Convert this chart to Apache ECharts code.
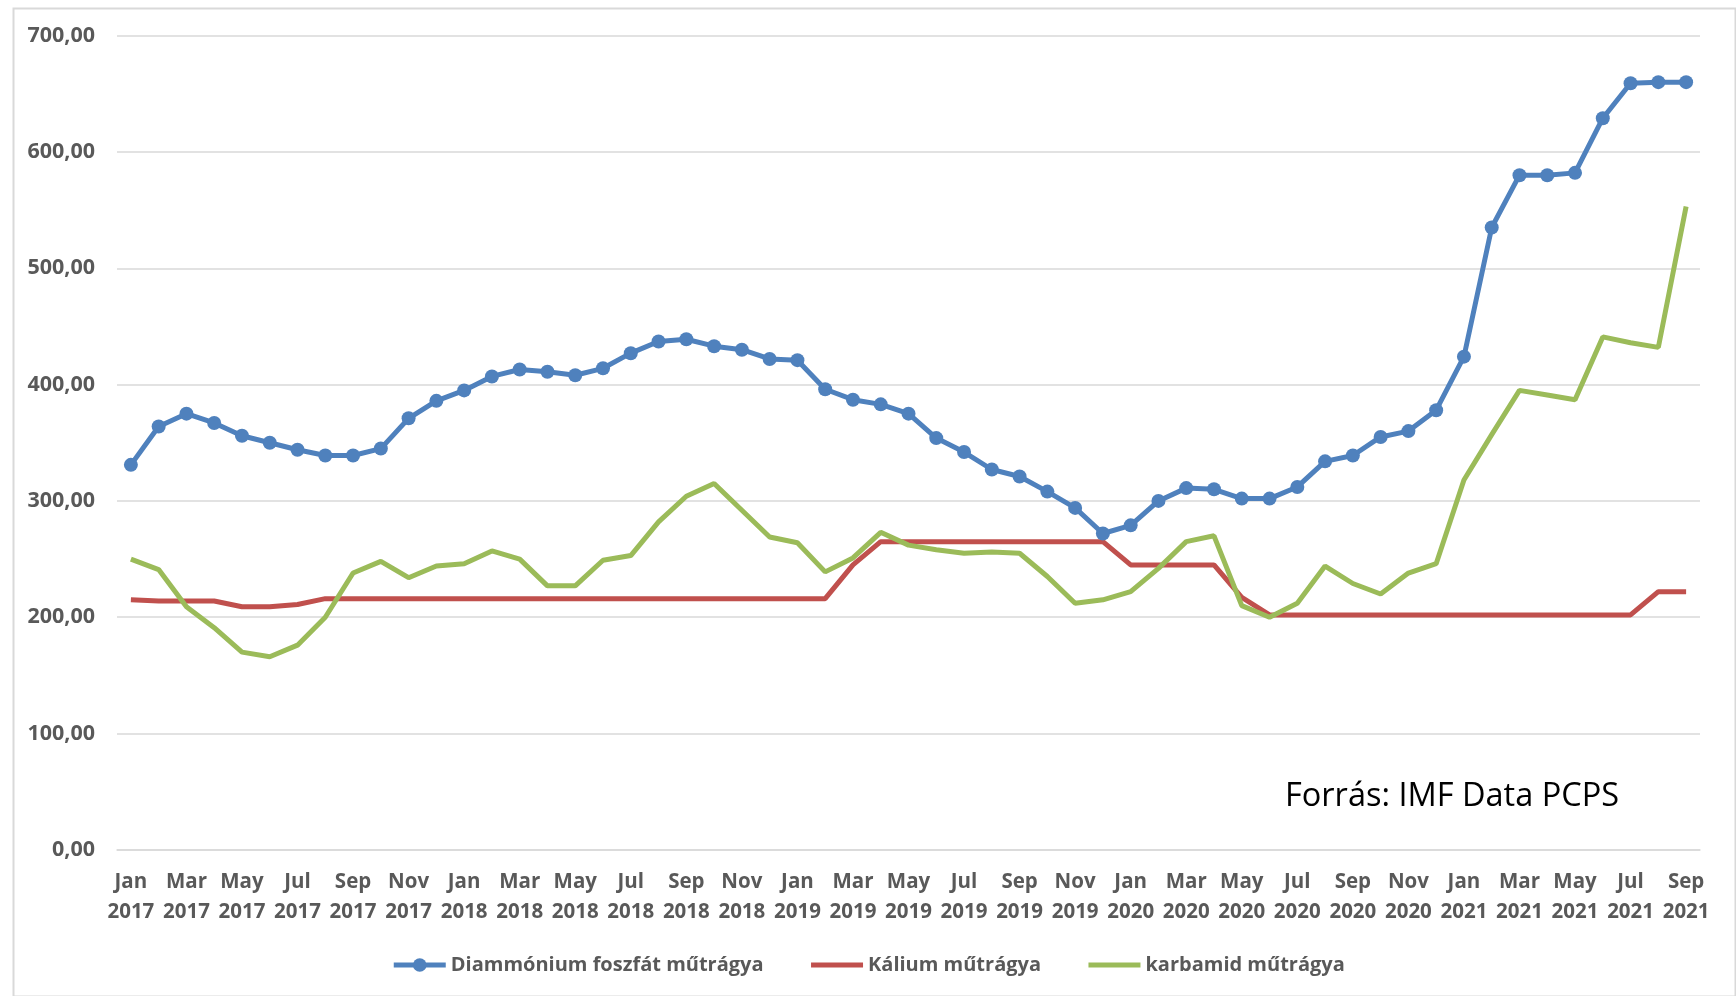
<!DOCTYPE html>
<html>
<head>
<meta charset="utf-8">
<script src="https://cdn.jsdelivr.net/npm/echarts@6/dist/echarts.min.js"></script>
<style>
html,body{margin:0;padding:0;background:#fff;}
#chart{width:1736px;height:996px;}
</style>
</head>
<body>
<div id="chart"></div>
<script>
const monthNames = ['Jan','Feb','Mar','Apr','May','Jun','Jul','Aug','Sep','Oct','Nov','Dec'];
const years = [2017, 2018, 2019, 2020, 2021];
const categories = [];
years.forEach(y => monthNames.forEach((m, i) => { if (y < 2021 || i < 9) categories.push(m + ' ' + y); }));

const yTicks = [0, 100, 200, 300, 400, 500, 600, 700];

const seriesNames = ['Diammónium foszfát műtrágya', 'Kálium műtrágya', 'karbamid műtrágya'];

const dapValues = [
  331, 364, 375, 367, 356, 350, 344, 339, 339, 345, 371, 386,
  395, 407, 413, 411, 408, 414, 427, 437, 439, 433, 430, 422,
  421, 396, 387, 383, 375, 354, 342, 327, 321, 308, 294, 272,
  279, 300, 311, 310, 302, 302, 312, 334, 339, 355, 360, 378,
  424, 535, 580, 580, 582, 629, 659, 660, 660
];
const potashValues = [
  215, 214, 214, 214, 209, 209, 211, 216, 216, 216, 216, 216,
  216, 216, 216, 216, 216, 216, 216, 216, 216, 216, 216, 216,
  216, 216, 245, 265, 265, 265, 265, 265, 265, 265, 265, 265,
  245, 245, 245, 245, 217, 202, 202, 202, 202, 202, 202, 202,
  202, 202, 202, 202, 202, 202, 202, 222, 222
];
const ureaValues = [
  250, 241, 209, 191, 170, 166, 176, 200, 238, 248, 234, 244,
  246, 257, 250, 227, 227, 249, 253, 282, 304, 315, 292, 269,
  264, 239, 251, 273, 262, 258, 255, 256, 255, 235, 212, 215,
  222, 242, 265, 270, 210, 200, 212, 244, 229, 220, 238, 246,
  318, 357, 395, 391, 387, 441, 436, 432, 553
];

const sourceNote = 'Forrás: IMF Data PCPS';

const chart = echarts.init(document.getElementById('chart'));
const textColor = '#595959';
const fontFamily = '"Open Sans", "Noto Sans", sans-serif';
const colors = ['#4F81BD', '#C0504D', '#9BBB59'];

chart.setOption({
  animation: false,
  backgroundColor: '#fff',
  textStyle: { fontFamily: fontFamily },
  grid: { left: 117, right: 36, top: 35.6, bottom: 146.1, containLabel: false },
  xAxis: {
    type: 'category',
    data: categories,
    boundaryGap: true,
    axisLine: { show: true, lineStyle: { color: '#d9d9d9', width: 1.5 } },
    axisTick: { show: false },
    axisLabel: {
      interval: 1,
      color: textColor,
      fontWeight: 'bold',
      fontSize: 20.5,
      fontFamily: fontFamily,
      lineHeight: 30,
      margin: 17,
      formatter: v => v.replace(' ', '\n')
    },
    splitLine: { show: false }
  },
  yAxis: {
    type: 'value',
    min: yTicks[0],
    max: yTicks[yTicks.length - 1],
    interval: 100,
    axisLine: { show: false },
    axisTick: { show: false },
    axisLabel: {
      color: textColor,
      fontWeight: 'bold',
      fontSize: 21.5,
      fontFamily: fontFamily,
      margin: 22,
      formatter: v => v.toFixed(2).replace('.', ',')
    },
    splitLine: { show: true, lineStyle: { color: '#d9d9d9', width: 1.5 } }
  },
  legend: {
    bottom: 16,
    left: 'center',
    itemGap: 45,
    itemWidth: 52,
    itemHeight: 17,
    lineStyle: { width: 5 },
    textStyle: { color: textColor, fontWeight: 'bold', fontSize: 20, fontFamily: fontFamily },
    data: [
      { name: seriesNames[0] },
      { name: seriesNames[1], itemStyle: { opacity: 0 } },
      { name: seriesNames[2], itemStyle: { opacity: 0 } }
    ]
  },
  series: [
    {
      name: seriesNames[0],
      type: 'line',
      data: dapValues,
      symbol: 'circle',
      symbolSize: 14,
      lineStyle: { color: colors[0], width: 5 },
      itemStyle: { color: colors[0] }
    },
    {
      name: seriesNames[1],
      type: 'line',
      data: potashValues,
      symbol: 'none',
      lineStyle: { color: colors[1], width: 5 },
      itemStyle: { color: colors[1] }
    },
    {
      name: seriesNames[2],
      type: 'line',
      data: ureaValues,
      symbol: 'none',
      lineStyle: { color: colors[2], width: 5 },
      itemStyle: { color: colors[2] }
    }
  ],
  graphic: [
    {
      type: 'rect',
      left: 11, top: 6,
      shape: { width: 1722, height: 988 },
      style: { fill: 'none', stroke: '#d9d9d9', lineWidth: 2 },
      silent: true
    },
    {
      type: 'text',
      x: 1285, y: 797,
      style: { text: sourceNote, fill: '#000', verticalAlign: 'middle', font: '32.5px "Open Sans", "Noto Sans", sans-serif' },
      silent: true
    }
  ]
});
</script>
</body>
</html>
